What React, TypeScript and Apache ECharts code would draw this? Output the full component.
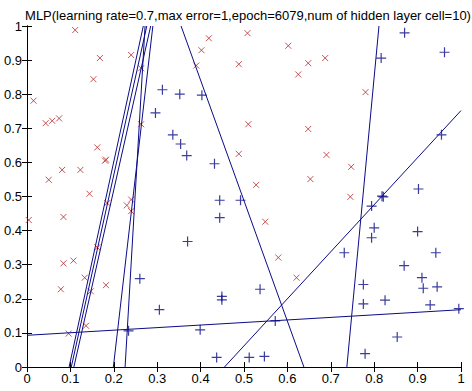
import React, { useEffect, useRef } from "react";
import * as echarts from "echarts";

const TITLE = "MLP(learning rate=0.7,max error=1,epoch=6079,num of hidden layer cell=10)";

const classX: number[][] = [
  [0.111, 0.988], [0.015, 0.781], [0.043, 0.715], [0.058, 0.722], [0.074, 0.729],
  [0.050, 0.549], [0.081, 0.578], [0.123, 0.578], [0.144, 0.508], [0.153, 0.844],
  [0.168, 0.906], [0.162, 0.644], [0.182, 0.608], [0.180, 0.605], [0.240, 0.915],
  [0.263, 0.876], [0.263, 0.712], [0.390, 0.884], [0.402, 0.929], [0.419, 0.964],
  [0.488, 0.888], [0.488, 0.625], [0.508, 0.979], [0.602, 0.942], [0.648, 0.891],
  [0.687, 0.906], [0.625, 0.858], [0.780, 0.806], [0.510, 0.712], [0.648, 0.698],
  [0.690, 0.622], [0.747, 0.587], [0.528, 0.534], [0.653, 0.551], [0.745, 0.499],
  [0.004, 0.431], [0.084, 0.440], [0.185, 0.481], [0.230, 0.474], [0.240, 0.491],
  [0.240, 0.457], [0.084, 0.304], [0.107, 0.312], [0.162, 0.351], [0.133, 0.262],
  [0.078, 0.228], [0.147, 0.222], [0.182, 0.240], [0.136, 0.121], [0.096, 0.098],
  [0.549, 0.426], [0.579, 0.321], [0.621, 0.262],
];

const classPlus: number[][] = [
  [0.870, 0.980], [0.962, 0.923], [0.816, 0.906], [0.955, 0.681], [0.902, 0.522],
  [0.818, 0.501], [0.821, 0.499], [0.312, 0.813], [0.352, 0.800], [0.403, 0.797],
  [0.296, 0.745], [0.336, 0.681], [0.354, 0.654], [0.368, 0.620], [0.432, 0.596],
  [0.444, 0.489], [0.444, 0.438], [0.370, 0.368], [0.260, 0.259], [0.305, 0.168],
  [0.449, 0.207], [0.449, 0.197], [0.399, 0.109], [0.234, 0.106], [0.437, 0.028],
  [0.492, 0.489], [0.794, 0.472], [0.800, 0.408], [0.794, 0.379], [0.900, 0.397],
  [0.942, 0.335], [0.731, 0.335], [0.869, 0.297], [0.910, 0.262], [0.913, 0.231],
  [0.945, 0.235], [0.775, 0.242], [0.775, 0.185], [0.825, 0.196], [0.929, 0.182],
  [0.995, 0.171], [0.537, 0.228], [0.572, 0.135], [0.853, 0.088], [0.779, 0.039],
  [0.512, 0.028], [0.547, 0.031],
];

// decision boundaries of hidden cells: [x0, y0, x1, y1]
const boundaries: number[][] = [
  [0, 0.093, 1, 0.168],
  [0.455, 0, 1, 0.752],
  [0.355, 1, 0.638, 0],
  [0.737, 0, 0.811, 1],
  [0.097, 0, 0.268, 1],
  [0.102, 0, 0.276, 1],
  [0.108, 0, 0.285, 1],
  [0.199, 0, 0.290, 1],
  [0.226, 0, 0.272, 1],
];

const BLUE = "#0b0b86";
const RED = "#b8282a";
const FONT = "'Liberation Sans', Arial, sans-serif";

export default function App() {
  const ref = useRef<HTMLDivElement>(null);
  useEffect(() => {
    if (!ref.current) return;
    const chart = echarts.init(ref.current, undefined, { renderer: "svg" });
    const tickCommon = {
      type: "value" as const,
      min: 0,
      max: 1,
      interval: 0.1,
      splitLine: { show: false },
      axisLine: { show: true, lineStyle: { color: "#000", width: 1 } },
      axisTick: { show: true, inside: true, length: 5, lineStyle: { color: "#000" } },
    };
    const labelStyle = { color: "#000", fontSize: 13, fontFamily: FONT };
    chart.setOption({
      animation: false,
      backgroundColor: "#fff",
      title: {
        text: TITLE,
        left: 243,
        textAlign: "center",
        top: 4,
        textStyle: { fontSize: 13, fontWeight: "normal", color: "#000", fontFamily: FONT },
      },
      grid: { left: 27, right: 11, top: 26, bottom: 24, show: false },
      xAxis: [
        {
          ...tickCommon,
          position: "bottom",
          axisLabel: { ...labelStyle, margin: 5, formatter: (v: number) => String(+v.toFixed(1)) },
        },
        { ...tickCommon, position: "top", axisLabel: { show: false } },
      ],
      yAxis: [
        {
          ...tickCommon,
          position: "left",
          axisLabel: { ...labelStyle, margin: 5, formatter: (v: number) => String(+v.toFixed(1)) },
        },
        { ...tickCommon, position: "right", axisLabel: { show: false } },
      ],
      series: [
        ...boundaries.map((b) => ({
          type: "line",
          data: [[b[0], b[1]], [b[2], b[3]]],
          symbol: "none",
          clip: true,
          lineStyle: { color: BLUE, width: 1 },
          silent: true,
        })),
        {
          type: "scatter",
          data: classX,
          symbol: "path://M0,0L10,10M10,0L0,10",
          symbolSize: 6,
          itemStyle: { color: "transparent", borderColor: RED, borderWidth: 1 },
        },
        {
          type: "scatter",
          data: classPlus,
          symbol: "path://M0,5L10,5M5,0L5,10",
          symbolSize: 10,
          itemStyle: { color: "transparent", borderColor: BLUE, borderWidth: 1.2 },
        },
      ],
    });
    return () => chart.dispose();
  }, []);
  return (
    <div
      ref={ref}
      style={{ position: "fixed", left: 0, top: 0, width: 472, height: 391, background: "#fff" }}
    />
  );
}
